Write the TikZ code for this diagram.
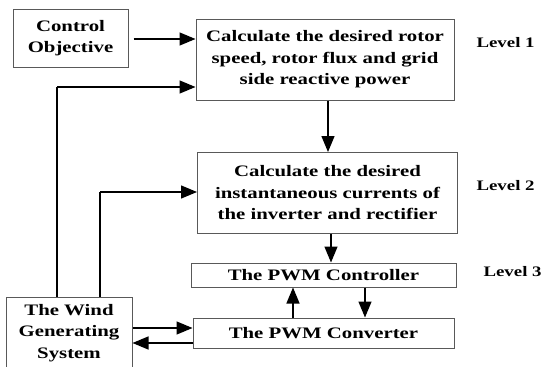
\documentclass[tikz,border=0pt]{standalone}
\usepackage{fontspec}
\setmainfont{Liberation Serif}[FakeStretch=1.3]
\usetikzlibrary{arrows.meta}
\begin{document}
\begin{tikzpicture}[x=1pt,y=-1pt,
  box/.style={draw=black!65,line width=1pt,align=center,inner sep=0pt,font=\bfseries\fontsize{16}{21.5}\selectfont},
  lvl/.style={anchor=west,font=\bfseries\fontsize{14.5}{18}\selectfont},
  conn/.style={line width=1.4pt,-{Triangle[length=16pt,width=13pt]}},
  plain/.style={line width=1.4pt}]
\useasboundingbox (0,0) rectangle (542,367);
\node[box,minimum width=115pt,minimum height=58pt] (co) at (70.5,38) {Control\\Objective};
\node[box,minimum width=258pt,minimum height=81pt] (b1) at (325,59.5) {Calculate the desired rotor\\speed, rotor flux and grid\\side reactive power};
\node[box,minimum width=260pt,minimum height=81pt] (b2) at (327.5,193) {Calculate the desired\\instantaneous currents of\\the inverter and rectifier};
\node[box,minimum width=265pt,minimum height=24pt] (ctl) at (323.5,275) {The PWM Controller};
\node[box,minimum width=261pt,minimum height=30pt] (cnv) at (323.5,333) {The PWM Converter};
\node[box,minimum width=126pt,minimum height=72pt] (wind) at (69,333) {The Wind\\Generating\\System};
\node[lvl] (l1) at (473,43) {Level 1};
\node[lvl] (l2) at (473,186) {Level 2};
\node[lvl] (l3) at (480,272) {Level 3};
\coordinate (c1) at (57,87);
\coordinate (c2) at (100,192);
\draw[conn] (co.east |- 0,39) ++(5,0) -- (b1.west |- 0,39);
\draw[plain] (wind.north -| c1) -- (c1);
\draw[conn] (c1) -- (b1.west |- c1);
\draw[plain] (wind.north -| c2) -- (c2);
\draw[conn] (c2) -- (b2.west |- c2);
\draw[conn] (b1.south -| 328,0) -- (b2.north -| 328,0);
\draw[conn] (b2.south -| 331,0) -- (ctl.north -| 331,0);
\draw[conn] (cnv.north -| 293,0) -- (ctl.south -| 293,0);
\draw[conn] (ctl.south -| 365,0) -- (cnv.north -| 365,0);
\draw[conn] (wind.east |- 0,328) -- (cnv.west |- 0,328);
\draw[conn] (cnv.west |- 0,343) -- (wind.east |- 0,343);
\end{tikzpicture}
\end{document}
